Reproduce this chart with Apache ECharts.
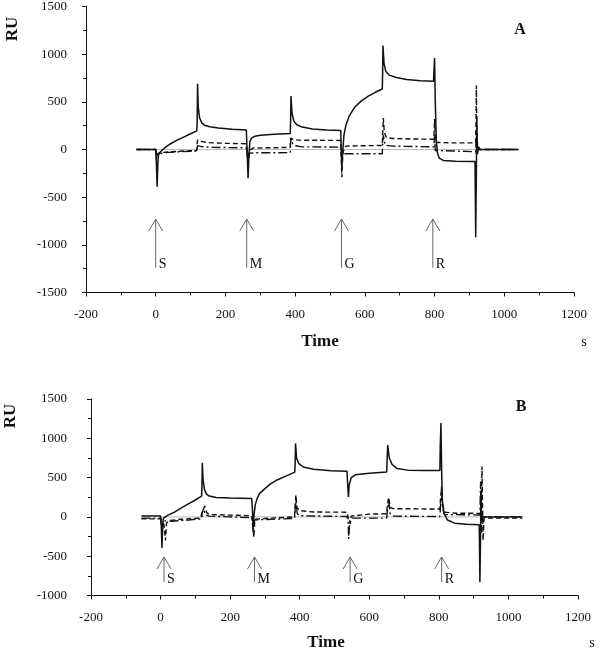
<!DOCTYPE html>
<html>
<head>
<meta charset="utf-8">
<script src="https://cdn.jsdelivr.net/npm/echarts@6/dist/echarts.min.js"></script>
<style>html,body{margin:0;padding:0;background:#fff}#c{width:603px;height:651px}</style>
</head>
<body>
<div id="c"></div>
<script>
// ---- Data (time in s, response in RU) ----
const xTicks = [-200, 0, 200, 400, 600, 800, 1000, 1200];
const aYRange = [-1500, 1500];
const bYRange = [-1000, 1500];
const arrowLabels = ['S', 'M', 'G', 'R'];
const aArrowT = [0, 261, 533, 795];
const aArrowRU = [-1240, -730];
const bArrowT = [10, 270, 545, 808];
const bArrowRU = [-830, -510];
const baseline = [[0, 0], [1040, 0]];

const aSolid = [[-55,0],[0,0],[2,-150],[4,-390],[6,-150],[8,-60],[12,-30],[20,0],[30,30],[40,55],[60,95],[80,130],[100,165],[118,195],[119,300],[120,690],[122,450],[126,330],[132,280],[140,255],[155,238],[180,225],[220,212],[260,205],[261,100],[263,-100],[265,-300],[267,-100],[270,80],[275,120],[285,140],[300,150],[340,160],[386,168],[387,300],[388,560],[391,380],[396,300],[405,260],[420,235],[450,215],[490,205],[531,200],[532,0],[534,-190],[536,-50],[540,150],[546,260],[555,350],[570,440],[590,510],[610,560],[630,600],[650,635],[651,800],[652,1090],[655,900],[660,820],[670,780],[690,755],[720,735],[760,722],[797,715],[798,800],[800,960],[802,500],[805,100],[808,-30],[813,-90],[825,-115],[860,-122],[916,-125],[917,-500],[918,-920],[920,-200],[921,350],[923,-50],[926,30],[930,0],[1040,0]];
const aDashed = [[-55,0],[0,0],[3,-100],[6,-40],[20,-30],[60,-20],[118,-10],[119,60],[120,100],[130,85],[150,72],[200,65],[260,60],[262,-20],[265,-150],[268,-10],[280,15],[320,18],[386,22],[387,120],[390,130],[396,105],[410,98],[531,95],[532,-50],[534,-290],[537,-30],[545,35],[600,40],[650,42],[651,150],[653,330],[656,180],[662,125],[680,115],[740,110],[798,108],[800,320],[803,75],[850,70],[918,70],[919,300],[920,670],[921,200],[924,0],[1040,0]];
const aDashDot = [[-55,0],[0,0],[3,-60],[6,-40],[20,-35],[60,-25],[118,-15],[119,10],[120,40],[130,30],[160,22],[260,18],[262,-30],[265,-120],[268,-40],[280,-35],[386,-33],[387,80],[389,110],[393,60],[400,40],[420,28],[531,25],[532,-30],[534,-100],[537,-20],[542,-45],[650,-45],[651,60],[653,150],[658,45],[680,35],[798,28],[800,150],[802,-10],[806,-23],[918,-23],[919,100],[920,-50],[922,0],[1040,0]];

const bSolid = [[-55,10],[0,10],[2,-100],[4,-395],[6,-100],[8,-20],[10,0],[20,20],[40,60],[60,115],[80,165],[100,215],[118,265],[119,400],[120,690],[122,480],[126,350],[132,290],[140,265],[160,248],[200,240],[262,235],[264,100],[266,-120],[268,0],[272,150],[278,240],[285,300],[300,360],[316,420],[335,470],[355,510],[386,570],[387,700],[388,935],[391,750],[397,680],[410,635],[440,605],[490,588],[536,580],[538,400],[540,255],[542,400],[548,500],[560,535],[600,555],[650,570],[651,700],[653,915],[657,760],[665,670],[680,615],[710,595],[760,590],[803,590],[804,900],[806,1195],[808,600],[810,200],[815,40],[825,-40],[845,-80],[880,-95],[916,-100],[917,-400],[918,-830],[920,-200],[921,300],[923,-50],[926,0],[1040,0]];
const bDashed = [[-55,-25],[0,-25],[5,-60],[10,-100],[14,-300],[17,-80],[25,-45],[60,-30],[115,-15],[118,40],[122,20],[127,140],[132,60],[140,30],[200,22],[262,15],[265,-80],[268,-260],[271,-30],[300,-20],[385,0],[387,150],[389,280],[392,120],[400,80],[440,62],[536,60],[540,-20],[545,-90],[548,10],[600,35],[650,40],[652,150],[656,250],[660,120],[668,105],[803,100],[805,250],[808,320],[811,150],[818,60],[850,47],[922,45],[924,640],[927,-300],[930,-15],[1040,-15]];
const bDashDot = [[-55,-15],[0,-15],[5,-200],[8,-60],[15,-50],[30,-55],[80,-40],[118,-25],[120,60],[124,110],[128,30],[140,10],[200,0],[262,-10],[264,-60],[266,-200],[270,-40],[290,-35],[385,-20],[387,100],[389,200],[393,40],[400,15],[536,5],[539,-60],[541,-280],[544,-40],[550,-15],[650,-15],[652,80],[656,200],[660,40],[670,10],[803,5],[805,150],[808,400],[811,100],[816,30],[918,25],[920,450],[922,-200],[925,0],[1040,0]];

// ---- Chart ----
const FONT = '"Liberation Serif", "Times New Roman", serif';
const INK = '#111';
const plainNum = v => String(v);

function xAxisFor(gi) {
  return {
    type: 'value', gridIndex: gi, min: xTicks[0], max: xTicks[xTicks.length - 1], interval: 200,
    axisLine: { onZero: false, lineStyle: { color: INK, width: 1 } },
    axisTick: { show: true, length: 4, lineStyle: { color: INK } },
    minorTick: { show: true, splitNumber: 2, length: 3, lineStyle: { color: INK } },
    splitLine: { show: false },
    axisLabel: { color: INK, fontFamily: FONT, fontSize: 13, margin: 16, formatter: plainNum }
  };
}
function yAxisFor(gi, range, margin) {
  return {
    type: 'value', gridIndex: gi, min: range[0], max: range[1], interval: 500,
    axisLine: { show: true, onZero: false, lineStyle: { color: INK, width: 1 } },
    axisTick: { show: true, length: 4, lineStyle: { color: INK } },
    minorTick: { show: true, splitNumber: 2, length: 3, lineStyle: { color: INK } },
    splitLine: { show: false },
    axisLabel: { color: INK, fontFamily: FONT, fontSize: 13, margin: margin, formatter: plainNum }
  };
}
function lineSeries(gi, data, type, width, color) {
  return {
    type: 'line', xAxisIndex: gi, yAxisIndex: gi, data: data, showSymbol: false, symbol: 'none',
    smooth: false, animation: false, z: type === 'base' ? 1 : 3,
    lineStyle: { color: color || INK, width: width, type: type === 'base' ? 'solid' : type }
  };
}
function arrowSeries(gi, ts, range) {
  return {
    type: 'custom', xAxisIndex: gi, yAxisIndex: gi, animation: false, z: 4,
    data: ts.map(t => [t, range[0], range[1]]),
    encode: { x: 0, y: [1, 2] },
    renderItem: function (params, api) {
      const p0 = api.coord([api.value(0), api.value(1)]);
      const p1 = api.coord([api.value(0), api.value(2)]);
      const c = '#666';
      return {
        type: 'group', children: [
          { type: 'line', shape: { x1: p0[0], y1: p0[1], x2: p1[0], y2: p1[1] }, style: { stroke: c, lineWidth: 1 } },
          { type: 'polyline', shape: { points: [[p1[0] - 7, p1[1] + 12], [p1[0], p1[1]], [p1[0] + 7, p1[1] + 12]] }, style: { stroke: c, fill: null, lineWidth: 1 } },
          { type: 'text', x: p0[0] + 3, y: p0[1] + 4, style: { text: arrowLabels[params.dataIndex], fill: INK, font: '14px ' + FONT, align: 'left', verticalAlign: 'bottom' } }
        ]
      };
    }
  };
}

const chart = echarts.init(document.getElementById('c'), null, { renderer: 'canvas' });
const boldTxt = (txt, x, y, size, rot) => ({
  type: 'text', x: x, y: y, rotation: rot || 0,
  style: { text: txt, fill: INK, font: 'bold ' + size + 'px ' + FONT, align: 'center', verticalAlign: 'middle' }
});
const plainTxt = (txt, x, y, size) => ({
  type: 'text', x: x, y: y,
  style: { text: txt, fill: INK, font: size + 'px ' + FONT, align: 'center', verticalAlign: 'middle' }
});

chart.setOption({
  backgroundColor: '#fff',
  animation: false,
  grid: [
    { left: 86, right: 29, top: 4.5, bottom: 358.5 },
    { left: 91, right: 25, top: 399, bottom: 55.5 }
  ],
  xAxis: [xAxisFor(0), xAxisFor(1)],
  yAxis: [yAxisFor(0, aYRange, 19), yAxisFor(1, bYRange, 24)],
  series: [
    lineSeries(0, baseline, 'base', 0.8, '#aaa'),
    lineSeries(0, aDashDot, [9, 3, 2, 3], 1.4),
    lineSeries(0, aDashed, [5, 3], 1.4),
    lineSeries(0, aSolid, 'solid', 1.5),
    arrowSeries(0, aArrowT, aArrowRU),
    lineSeries(1, baseline, 'base', 0.8, '#aaa'),
    lineSeries(1, bDashDot, [9, 3, 2, 3], 1.4),
    lineSeries(1, bDashed, [5, 3], 1.4),
    lineSeries(1, bSolid, 'solid', 1.5),
    arrowSeries(1, bArrowT, bArrowRU)
  ],
  graphic: [
    boldTxt('RU', 12.5, 29, 17, Math.PI / 2),
    boldTxt('A', 520, 30, 16),
    boldTxt('Time', 320, 342, 17),
    plainTxt('s', 584, 342, 14),
    boldTxt('RU', 11, 416, 17, Math.PI / 2),
    boldTxt('B', 521, 407, 16),
    boldTxt('Time', 326, 643, 17),
    plainTxt('s', 592, 643, 14)
  ]
});
</script>
</body>
</html>
